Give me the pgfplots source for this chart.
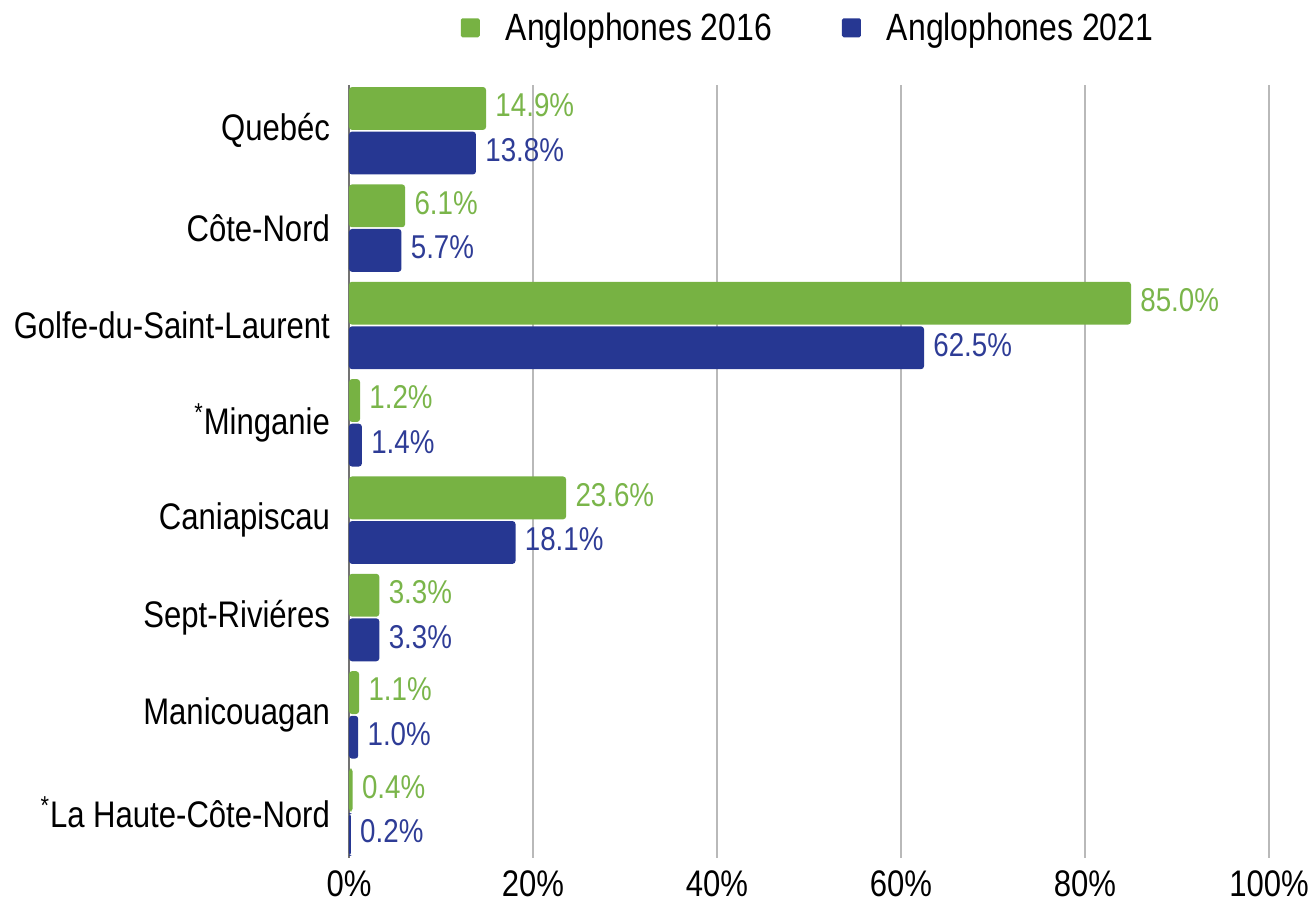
\documentclass[border=0pt]{standalone}
\usepackage{pgfplots}
\pgfplotsset{compat=1.18}
\usepackage{fontspec}
\setmainfont{Liberation Sans}[FakeStretch=0.84]
\definecolor{gr}{HTML}{77B243}
\definecolor{bl}{HTML}{263792}
\definecolor{grtxt}{HTML}{7AB54A}
\definecolor{bltxt}{HTML}{2E3C96}
\begin{document}
\begin{tikzpicture}
\begin{axis}[
  name=ax,
  scale only axis,
  width=460pt, height=386.5pt,
  xbar,
  xmin=0, xmax=100,
  ymin=-0.47, ymax=7.47,
  y dir=reverse,
  bar width=0.44,
  xtick={0,20,40,60,80,100},
  xticklabel={\pgfmathprintnumber{\tick}\%},
  /pgf/number format/assume math mode=true,
  ytick={0,1,2,3,4,5,6,7},
  yticklabels={Quebéc,Côte-Nord,Golfe-du-Saint-Laurent,\textsuperscript{*}Minganie,Caniapiscau,Sept-Riviéres,Manicouagan,\textsuperscript{*}La Haute-Côte-Nord},
  yticklabel style={font=\fontsize{18.5pt}{22pt}\selectfont, xshift=-6pt},
  xticklabel style={font=\fontsize{18.5pt}{22pt}\selectfont, yshift=-3pt},
  major tick length=0pt,
  axis lines*=left,
  x axis line style={draw=none},
  y axis line style={draw=gray!90!black, line width=0.8pt},
  xmajorgrids,
  grid style={draw=gray!55, line width=0.75pt},
  axis on top=false,
  nodes near coords={\pgfmathprintnumber[fixed,precision=1,fixed zerofill]{\pgfplotspointmeta}\%},
  nodes near coords style={font=\fontsize{16.5pt}{20pt}\selectfont, inner sep=0pt, xshift=4.5pt, yshift=1.5pt},
  legend columns=2,
  legend style={at={(0.5,1.074)}, anchor=center, draw=none, fill=none,
    font=\fontsize{19pt}{22pt}\selectfont,
    /tikz/every odd column/.append style={column sep=11pt},
    /tikz/every even column/.append style={column sep=33pt}},
  legend image code/.code={\fill[#1, rounded corners=0.8pt] (0pt,-4.75pt) rectangle (9.5pt,4.75pt);},
]
\addplot[fill=gr, draw=none, bar shift=-0.229, rounded corners=1.5pt, nodes near coords style={text=grtxt}] coordinates {
(14.9,0) (6.1,1) (85.0,2) (1.2,3) (23.6,4) (3.3,5) (1.1,6) (0.4,7)};
\addlegendentry{Anglophones 2016}
\addplot[fill=bl, draw=none, bar shift=0.229, rounded corners=1.5pt, nodes near coords style={text=bltxt}] coordinates {
(13.8,0) (5.7,1) (62.5,2) (1.4,3) (18.1,4) (3.3,5) (1.0,6) (0.2,7)};
\addlegendentry{Anglophones 2021}
\end{axis}
\pgfresetboundingbox
\path ([shift={(-174.5pt,-22.5pt)}]ax.south west) rectangle ([shift={(23.5pt,42.5pt)}]ax.north east);
\end{tikzpicture}
\end{document}
